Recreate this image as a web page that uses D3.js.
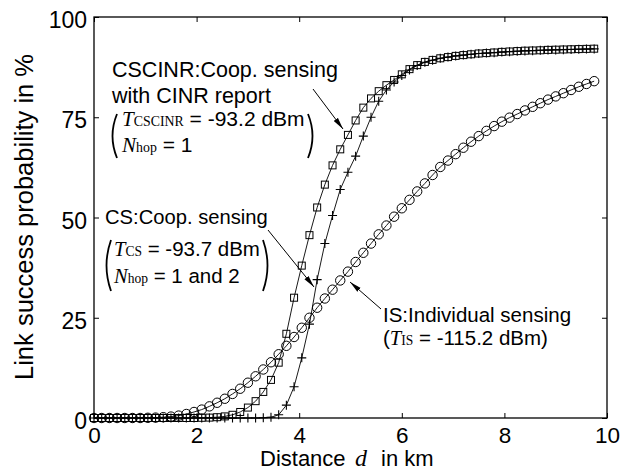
<!DOCTYPE html>
<html>
<head>
<meta charset="utf-8">
<script src="https://cdn.jsdelivr.net/npm/d3@7"></script>
<style>
  body { margin: 0; background: #fff; }
  svg { display: block; }
  text { font-family: "Liberation Sans", Arial, Helvetica, sans-serif; fill: #000; white-space: pre; }
</style>
</head>
<body>
<div id="chart"></div>
<script>
// distance grid (km)
const distance = [
    0, 0.15, 0.3, 0.45, 0.6, 0.75, 0.9, 1.05, 1.2, 1.35,
    1.5, 1.65, 1.8, 1.95, 2.1, 2.25, 2.4, 2.55, 2.7, 2.85,
    3.0, 3.15, 3.3, 3.45, 3.6, 3.75, 3.9, 4.05, 4.2, 4.35,
    4.5, 4.65, 4.8, 4.95, 5.1, 5.25, 5.4, 5.55, 5.7, 5.85,
    6.0, 6.15, 6.3, 6.45, 6.6, 6.75, 6.9, 7.05, 7.2, 7.35,
    7.5, 7.65, 7.8, 7.95, 8.1, 8.25, 8.4, 8.55, 8.7, 8.85,
    9.0, 9.15, 9.3, 9.45, 9.6, 9.75
];
// IS: individual sensing (circles)
const isProb = [
    0, 0, 0, 0, 0, 0, 0, 0.05, 0.1, 0.2,
    0.35, 0.6, 1.0, 1.5, 2.1, 2.9, 3.8, 4.8, 6.0, 7.3,
    8.8, 10.4, 12.1, 13.9, 15.9, 18.0, 20.2, 22.5, 25.0, 27.5,
    29.8, 32.0, 34.3, 36.5, 38.9, 41.2, 43.5, 45.8, 48.0, 50.2,
    52.3, 54.4, 56.5, 58.5, 60.6, 62.6, 64.2, 65.8, 67.4, 68.9,
    70.3, 71.6, 72.8, 73.9, 74.9, 75.8, 76.7, 77.6, 78.5, 79.4,
    80.2, 81.0, 81.8, 82.6, 83.3, 84.0
];
// CSCINR: coop. sensing with CINR report (squares)
const cscinrProb = [
    0, 0, 0, 0, 0, 0, 0, 0, 0, 0,
    0, 0, 0, 0, 0.05, 0.1, 0.2, 0.4, 0.8, 1.5,
    2.6, 4.2, 6.5, 9.5, 13.8, 21.0, 30.0, 38.0, 45.6, 52.5,
    58.2, 63.0, 67.0, 70.6, 74.2, 77.4, 79.7, 81.5, 83.0, 84.3,
    85.7, 87.0, 88.0, 88.8, 89.3, 89.7, 90.0, 90.3, 90.5, 90.7,
    90.9, 91.0, 91.15, 91.3, 91.4, 91.5, 91.6, 91.65, 91.7, 91.8,
    91.85, 91.9, 91.95, 92.0, 92.05, 92.1
];
// CS: coop. sensing (plus)
const csProb = [
    0, 0, 0, 0, 0, 0, 0, 0, 0, 0,
    0, 0, 0, 0, 0, 0, 0, 0, 0, 0,
    0, 0, 0.05, 0.2, 0.8, 3.2, 7.8, 15.0, 23.4, 34.5,
    43.5, 50.5, 57.0, 61.3, 65.3, 70.3, 75.0, 79.0, 81.8, 83.8,
    85.4, 86.8, 87.9, 88.7, 89.2, 89.7, 90.0, 90.3, 90.5, 90.7,
    90.9, 91.0, 91.1, 91.25, 91.35, 91.45, 91.55, 91.6, 91.7, 91.75,
    91.8, 91.85, 91.9, 91.95, 92.0, 92.05
];
const xTicks = [0, 2, 4, 6, 8, 10];
const yTicks = [0, 25, 50, 75, 100];

const width = 633;
const height = 472;
const plot = { left: 94, right: 607, top: 17, bottom: 418 };

const svg = d3.select("#chart")
    .append("svg")
    .attr("width", width)
    .attr("height", height);

const defs = svg.append("defs");
defs.append("marker")
    .attr("id", "head")
    .attr("viewBox", "0 0 12 6")
    .attr("refX", 12)
    .attr("refY", 3)
    .attr("markerWidth", 12)
    .attr("markerHeight", 6)
    .attr("markerUnits", "userSpaceOnUse")
    .attr("orient", "auto")
    .append("path")
    .attr("d", "M0,0.4 L12,3 L0,5.6 Z")
    .attr("fill", "#000");

let x = d3.scaleLinear().domain([0, 10]).range([plot.left, plot.right]);
let y = d3.scaleLinear().domain([0, 100]).range([plot.bottom, plot.top]);

// axes, ticks pointing inward like matlab
svg.append("g")
    .attr("transform", `translate(0, ${plot.bottom})`)
    .call(d3.axisBottom(x).tickValues(xTicks).tickSizeInner(-5).tickSizeOuter(0).tickPadding(9))
    .call(g => g.select(".domain").remove())
    .call(g => g.selectAll("text").style("font-size", "22.5px").attr("font-family", null));

svg.append("g")
    .attr("transform", `translate(${plot.left}, 0)`)
    .call(d3.axisLeft(y).tickValues(yTicks).tickSizeInner(-5).tickSizeOuter(0).tickPadding(7))
    .call(g => g.select(".domain").remove())
    .call(g => g.selectAll("text").style("font-size", "23px").attr("dy", "0.46em").attr("font-family", null));

svg.append("g")
    .attr("transform", `translate(0, ${plot.top})`)
    .call(d3.axisTop(x).tickValues(xTicks).tickSizeInner(-5).tickSizeOuter(0).tickFormat(""))
    .call(g => g.select(".domain").remove());

svg.append("g")
    .attr("transform", `translate(${plot.right}, 0)`)
    .call(d3.axisRight(y).tickValues(yTicks).tickSizeInner(-5).tickSizeOuter(0).tickFormat(""))
    .call(g => g.select(".domain").remove());

svg.selectAll(".tick line").attr("stroke", "#000");

// frame
svg.append("rect")
    .attr("x", plot.left)
    .attr("y", plot.top)
    .attr("width", plot.right - plot.left)
    .attr("height", plot.bottom - plot.top)
    .attr("fill", "none")
    .attr("stroke", "#000")
    .attr("stroke-width", 1.3);

// series
const series = [
    { name: "IS", values: isProb, marker: "circle" },
    { name: "CS", values: csProb, marker: "plus" },
    { name: "CSCINR", values: cscinrProb, marker: "square" }
];

let line = d3.line()
    .x((d, i) => x(distance[i]))
    .y(d => y(d));

series.forEach(s => {
    let g = svg.append("g").attr("class", "series-" + s.name);
    g.append("path")
        .datum(s.values)
        .attr("d", line)
        .attr("fill", "none")
        .attr("stroke", "#000")
        .attr("stroke-width", 0.9);

    let pts = g.selectAll(".pt")
        .data(s.values)
        .enter();
    if (s.marker === "circle") {
        pts.append("circle")
            .attr("cx", (d, i) => x(distance[i]))
            .attr("cy", d => y(d))
            .attr("r", 4.7)
            .attr("fill", "none")
            .attr("stroke", "#000")
            .attr("stroke-width", 1);
    } else if (s.marker === "square") {
        pts.append("rect")
            .attr("x", (d, i) => x(distance[i]) - 3.5)
            .attr("y", d => y(d) - 3.5)
            .attr("width", 7)
            .attr("height", 7)
            .attr("fill", "none")
            .attr("stroke", "#000")
            .attr("stroke-width", 1);
    } else {
        pts.append("path")
            .attr("transform", (d, i) => `translate(${x(distance[i])}, ${y(d)})`)
            .attr("d", "M-4.5,0H4.5M0,-4.5V4.5")
            .attr("stroke", "#000")
            .attr("stroke-width", 1.1);
    }
});

// axis titles
svg.append("text")
    .attr("transform", `translate(33, 217) rotate(-90)`)
    .attr("text-anchor", "middle")
    .style("font-size", "25.5px")
    .text("Link success probability in %");

let xLabel = svg.append("text")
    .attr("y", 466)
    .style("font-size", "22px");
xLabel.append("tspan").attr("x", 260).text("Distance");
xLabel.append("tspan").attr("x", 355)
    .style("font-family", "'Liberation Serif', 'Times New Roman', serif")
    .style("font-style", "italic")
    .style("font-size", "24px")
    .text("d");
xLabel.append("tspan").attr("x", 381).text("in km");

// annotation text with serif italic symbols and small serif subscripts
const serif = "'Liberation Serif', 'Times New Roman', serif";
function richText(px, py, size, parts) {
    let t = svg.append("text")
        .attr("x", px)
        .attr("y", py)
        .style("font-size", size + "px");
    parts.forEach(p => {
        let ts = t.append("tspan").text(p[0]);
        if (p[1] === "ital") {
            ts.style("font-family", serif).style("font-style", "italic");
        } else if (p[1] === "sub") {
            ts.style("font-family", serif).style("font-size", (size * 0.66) + "px");
        }
    });
    return t;
}

function paren(x0, y0, y1, left) {
    let ym = (y0 + y1) / 2;
    let d = left
        ? `M${x0 + 7},${y0} Q${x0 - 2},${ym} ${x0 + 7},${y1}`
        : `M${x0 - 7},${y0} Q${x0 + 2},${ym} ${x0 - 7},${y1}`;
    svg.append("path")
        .attr("d", d)
        .attr("fill", "none")
        .attr("stroke", "#000")
        .attr("stroke-width", 1.8);
}

function arrow(x1, y1, x2, y2) {
    svg.append("line")
        .attr("x1", x1).attr("y1", y1)
        .attr("x2", x2).attr("y2", y2)
        .attr("stroke", "#000")
        .attr("stroke-width", 1)
        .attr("marker-end", "url(#head)");
}

// CSCINR note
richText(112, 77, 21.5, [["CSCINR:Coop. sensing"]]);
richText(112, 102.5, 21.5, [["with CINR report"]]);
richText(122, 126, 21, [["T", "ital"], ["CSCINR", "sub"], [" = -93.2 dBm"]]);
richText(122, 152, 21, [["N", "ital"], ["hop", "sub"], [" = 1"]]);
paren(110, 114, 158, true);
paren(315, 114, 158, false);
arrow(313, 89, 343, 129);

// CS note
richText(105, 224, 20.2, [["CS:Coop. sensing"]]);
richText(114, 256, 20.5, [["T", "ital"], ["CS", "sub"], [" = -93.7 dBm"]]);
richText(114, 283, 20.5, [["N", "ital"], ["hop", "sub"], [" = 1 and 2"]]);
paren(104, 240, 291, true);
paren(270, 240, 291, false);
arrow(268, 230, 314, 287);

// IS note
richText(383, 322, 20.5, [["IS:Individual sensing"]]);
richText(383, 345, 20.5, [["("], ["T", "ital"], ["IS", "sub"], [" = -115.2 dBm)"]]);
arrow(381, 309, 350, 282);
</script>
</body>
</html>
